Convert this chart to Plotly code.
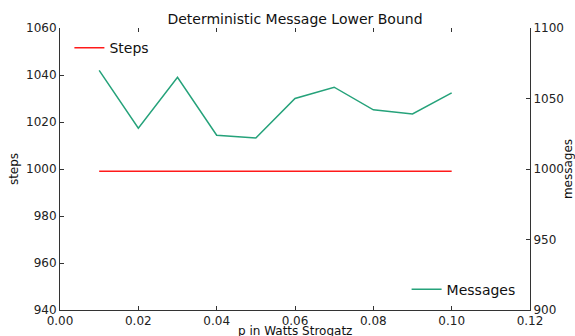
import plotly.graph_objects as go

p_values = [0.01, 0.02, 0.03, 0.04, 0.05, 0.06, 0.07, 0.08, 0.09, 0.10]
steps = [999, 999, 999, 999, 999, 999, 999, 999, 999, 999]
messages = [1070, 1029, 1065, 1024, 1022, 1050, 1058, 1042, 1039, 1054]

x_ticks = [0.00, 0.02, 0.04, 0.06, 0.08, 0.10, 0.12]
left_ticks = [940, 960, 980, 1000, 1020, 1040, 1060]
right_ticks = [900, 950, 1000, 1050, 1100]

FONT = "DejaVu Sans"
fig = go.Figure()
fig.add_trace(go.Scatter(x=p_values, y=steps, mode="lines", name="Steps",
                         line=dict(color="#ff1a1a", width=1.5), legend="legend",
                         showlegend=True, xaxis="x", yaxis="y"))
fig.add_trace(go.Scatter(x=p_values, y=messages, mode="lines", name="Messages",
                         line=dict(color="#25a27a", width=1.5), legend="legend2",
                         showlegend=True, xaxis="x2", yaxis="y2"))

axis_common = dict(showgrid=False, zeroline=False, ticks="inside", ticklen=4,
                   tickcolor="#333", linecolor="#333", linewidth=1, automargin=False,
                   tickfont=dict(family=FONT, size=12, color="#222"))

fig.update_layout(
    width=575, height=336,
    margin=dict(l=60, r=45, t=28, b=26),
    showlegend=True,
    paper_bgcolor="white", plot_bgcolor="white",
    font=dict(family=FONT, color="#111"),
    title=dict(text="Deterministic Message Lower Bound", x=0.5, xanchor="center",
               xref="paper", y=0.943, yanchor="middle",
               font=dict(family=FONT, size=14, color="#111")),
    xaxis=dict(range=[0, 0.12], tickvals=x_ticks,
               ticktext=[f"{v:.2f}" for v in x_ticks], showline=True, **axis_common),
    xaxis2=dict(range=[0, 0.12], tickvals=x_ticks, overlaying="x", side="top",
                showticklabels=False, showline=False, matches="x", **axis_common),
    yaxis=dict(range=[940, 1060], tickvals=left_ticks, showline=True,
               title=dict(text="steps", standoff=4, font=dict(family=FONT, size=12)),
               **axis_common),
    yaxis2=dict(range=[900, 1100], tickvals=right_ticks, overlaying="y", side="right",
                showline=True,
                title=dict(text="messages", standoff=4, font=dict(family=FONT, size=12)),
                **axis_common),
    legend=dict(x=0.02, y=0.985, xanchor="left", yanchor="top", bgcolor="rgba(0,0,0,0)",
                font=dict(family=FONT, size=14), itemwidth=30),
    legend2=dict(x=0.98, y=0.015, xanchor="right", yanchor="bottom", bgcolor="rgba(0,0,0,0)",
                 font=dict(family=FONT, size=14), itemwidth=30),
    annotations=[dict(text="p in Watts Strogatz", xref="paper", yref="paper",
                      x=0.5, y=-0.075, xanchor="center", yanchor="middle",
                      showarrow=False, font=dict(family=FONT, size=12, color="#111"))],
)

fig.write_html("out.html")
